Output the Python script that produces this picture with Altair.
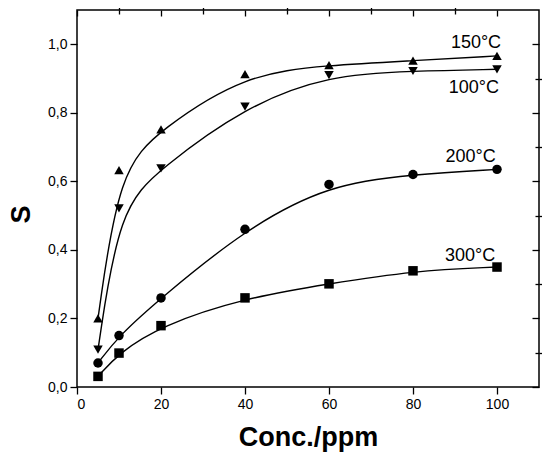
import altair as alt
import pandas as pd

# concentration (ppm) and response S for each operating temperature
conc = [5, 10, 20, 40, 60, 80, 100]
s_150 = [0.200, 0.633, 0.752, 0.913, 0.939, 0.952, 0.966]
s_100 = [0.109, 0.521, 0.638, 0.818, 0.910, 0.922, 0.927]
s_200 = [0.070, 0.150, 0.260, 0.460, 0.591, 0.620, 0.635]
s_300 = [0.031, 0.099, 0.179, 0.260, 0.301, 0.339, 0.350]

series = ["150", "100", "200", "300"]
shapes = ["triangle-up", "triangle-down", "circle", "square"]

# curve labels, anchored in data units
label_text = ["150°C", "100°C", "200°C", "300°C"]
label_x = [95.0, 94.5, 93.7, 93.6]
label_y = [0.988, 0.859, 0.657, 0.368]

x_major = [0, 20, 40, 60, 80, 100]
x_minor = [10, 30, 50, 70, 90]
y_major = [0.0, 0.2, 0.4, 0.6, 0.8, 1.0]
y_minor = [0.1, 0.3, 0.5, 0.7, 0.9]

FONT = "Liberation Sans"

rows = []
for name, vals in zip(series, [s_150, s_100, s_200, s_300]):
    for c, v in zip(conc, vals):
        rows.append({"series": name, "conc": c, "s": v})
df = pd.DataFrame(rows)
labels = pd.DataFrame({"text": label_text, "conc": label_x, "s": label_y})

# every layer gets its own copy of the same fixed scales
xs = alt.Scale(domain=[0, 110], nice=False, zero=False)
ys = alt.Scale(domain=[0, 1.1], nice=False, zero=False)
base = alt.Chart(df)


def ticks_layer(x_axis, y_axis):
    # invisible points that only carry an axis pair
    return base.mark_point(opacity=0).encode(
        x=alt.X("conc:Q", scale=xs, axis=x_axis),
        y=alt.Y("s:Q", scale=ys, axis=y_axis),
    )


plain = dict(domain=False, labels=False, title="", grid=False)
lab = dict(labelFont=FONT, labelFontSize=14, labelColor="black",
           titleFont=FONT, titleFontSize=27, titleFontWeight="bold", titleColor="black")

main_axes = ticks_layer(
    alt.Axis(values=x_major, tickSize=7, labelPadding=3, domain=False, grid=False,
             title="Conc./ppm", titlePadding=13, **lab),
    alt.Axis(values=y_major, tickSize=7, labelPadding=3, domain=False, grid=False,
             title="S", titleX=-56, titleY=204, titleBaseline="middle", titleAlign="center",
             labelExpr="replace(format(datum.value, '.1f'), '.', ',')", **lab),
)
minor_axes = ticks_layer(
    alt.Axis(values=x_minor, tickSize=4, **plain),
    alt.Axis(values=y_minor, tickSize=4, **plain),
)
# mirrored axes: pulled into the plot so their ticks point inward
top_right = ticks_layer(
    alt.Axis(orient="top", values=x_major, tickSize=6, offset=-6, **plain),
    alt.Axis(orient="right", values=y_major, tickSize=7, offset=-7, **plain),
)
top_right_minor = ticks_layer(
    alt.Axis(orient="top", values=x_minor, tickSize=4, offset=-4, **plain),
    alt.Axis(orient="right", values=y_minor, tickSize=4, offset=-4, **plain),
)

lines = base.mark_line(interpolate="basis", color="black", strokeWidth=1.4).encode(
    x=alt.X("conc:Q", scale=xs, axis=None),
    y=alt.Y("s:Q", scale=ys, axis=None),
    detail="series:N",
)
points = base.mark_point(filled=True, color="black", opacity=1).encode(
    x=alt.X("conc:Q", scale=xs, axis=None),
    y=alt.Y("s:Q", scale=ys, axis=None),
    shape=alt.Shape("series:N", scale=alt.Scale(domain=series, range=shapes), legend=None),
    size=alt.Size("series:N", scale=alt.Scale(domain=series, range=[90, 90, 64, 52]), legend=None),
)
text = alt.Chart(labels).mark_text(font=FONT, fontSize=18, color="black", align="center",
                                   baseline="alphabetic").encode(
    x=alt.X("conc:Q", scale=xs, axis=None),
    y=alt.Y("s:Q", scale=ys, axis=None),
    text="text:N",
)

chart = (
    alt.layer(main_axes, minor_axes, top_right, top_right_minor, lines, points, text)
    .resolve_scale(x="independent", y="independent")
    .resolve_axis(x="independent", y="independent")
    .properties(width=462, height=377, autosize=alt.AutoSizeParams(type="none"),
                padding={"left": 69, "top": 2, "right": 3, "bottom": 66})
    .configure_view(stroke="black", strokeWidth=1.5)
    .configure_axis(tickColor="black", tickWidth=1.3)
)

chart.save("out.html", embed_options={"renderer": "svg", "actions": False})
